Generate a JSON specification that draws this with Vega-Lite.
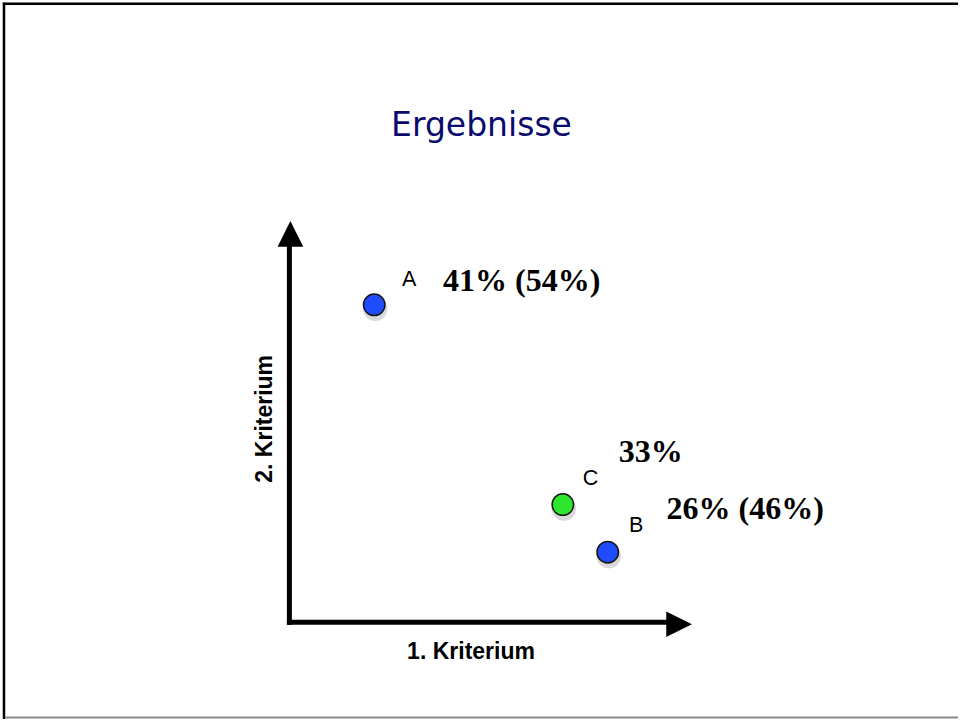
{
  "$schema": "https://vega.github.io/schema/vega-lite/v6.json",
  "width": 960,
  "height": 721,
  "autosize": {"type": "fit", "contains": "padding"},
  "padding": 0,
  "background": "white",
  "view": {"stroke": null},
  "layer": [
    {
      "data": {"values": [
        {"x1": -286, "y1": 621.3, "x2": -286, "y2": -97},
        {"x1": -287.2, "y1": 620.3, "x2": 670, "y2": 620.3}
      ]},
      "mark": {"type": "rule", "stroke": "#000000", "strokeWidth": 2.5},
      "encoding": {
        "x": {"field": "x1", "type": "quantitative", "scale": {"domain": [-290, 670], "nice": false, "zero": false}, "axis": null},
        "x2": {"field": "x2"},
        "y": {"field": "y1", "type": "quantitative", "scale": {"domain": [-97, 624], "nice": false, "zero": false}, "axis": null},
        "y2": {"field": "y2"}
      }
    },
    {
      "data": {"values": [
        {"x1": -285, "y1": -95.5, "x2": 670, "y2": -95.5}
      ]},
      "mark": {"type": "rule", "stroke": "#8a8a8a", "strokeWidth": 2},
      "encoding": {
        "x": {"field": "x1", "type": "quantitative", "scale": {"domain": [-290, 670], "nice": false, "zero": false}, "axis": null},
        "x2": {"field": "x2"},
        "y": {"field": "y1", "type": "quantitative", "scale": {"domain": [-97, 624], "nice": false, "zero": false}, "axis": null},
        "y2": {"field": "y2"}
      }
    },
    {
      "data": {"values": [
        {"x1": 0, "y1": -2.5, "x2": 0, "y2": 380},
        {"x1": -2.5, "y1": 0, "x2": 380, "y2": 0}
      ]},
      "mark": {"type": "rule", "stroke": "#000000", "strokeWidth": 5},
      "encoding": {
        "x": {"field": "x1", "type": "quantitative", "scale": {"domain": [-290, 670], "nice": false, "zero": false}, "axis": null},
        "x2": {"field": "x2"},
        "y": {"field": "y1", "type": "quantitative", "scale": {"domain": [-97, 624], "nice": false, "zero": false}, "axis": null},
        "y2": {"field": "y2"}
      }
    },
    {
      "data": {"values": [
        {"dir": "up", "x": 1, "y": 389.5},
        {"dir": "right", "x": 390.5, "y": -2}
      ]},
      "mark": {"type": "point", "filled": true, "fill": "#000000", "stroke": null, "opacity": 1, "size": 660},
      "encoding": {
        "x": {"field": "x", "type": "quantitative", "scale": {"domain": [-290, 670], "nice": false, "zero": false}, "axis": null},
        "y": {"field": "y", "type": "quantitative", "scale": {"domain": [-97, 624], "nice": false, "zero": false}, "axis": null},
        "shape": {"field": "dir", "type": "nominal", "scale": {"domain": ["up", "right"], "range": ["M0,-1L-1,1L1,1Z", "M1,0L-1,-1L-1,1Z"]}, "legend": null}
      }
    },
    {
      "data": {"values": [
        {"option": "A", "k1": 85, "k2": 318.3},
        {"option": "B", "k1": 319, "k2": 70.3},
        {"option": "C", "k1": 274, "k2": 118}
      ]},
      "mark": {"type": "circle", "color": "#000000", "opacity": 0.15, "size": 600, "xOffset": 1, "yOffset": 4},
      "encoding": {
        "x": {"field": "k1", "type": "quantitative", "scale": {"domain": [-290, 670], "nice": false, "zero": false}, "axis": null},
        "y": {"field": "k2", "type": "quantitative", "scale": {"domain": [-97, 624], "nice": false, "zero": false}, "axis": null}
      }
    },
    {
      "data": {"values": [
        {"option": "A", "k1": 85, "k2": 318.3},
        {"option": "B", "k1": 319, "k2": 70.3},
        {"option": "C", "k1": 274, "k2": 118}
      ]},
      "mark": {"type": "circle", "opacity": 1, "size": 460, "stroke": "#151515", "strokeWidth": 1.5},
      "encoding": {
        "x": {"field": "k1", "type": "quantitative", "scale": {"domain": [-290, 670], "nice": false, "zero": false}, "axis": null},
        "y": {"field": "k2", "type": "quantitative", "scale": {"domain": [-97, 624], "nice": false, "zero": false}, "axis": null},
        "fill": {"field": "option", "type": "nominal", "scale": {"domain": ["A", "B", "C"], "range": ["#1f4cff", "#1f4cff", "#2ee62e"]}, "legend": null}
      }
    },
    {
      "data": {"values": [
        {"option": "A", "lx": 120, "ly": 337.5},
        {"option": "B", "lx": 347.5, "ly": 91},
        {"option": "C", "lx": 301.7, "ly": 137.5}
      ]},
      "mark": {"type": "text", "font": "Liberation Sans", "fontSize": 21.5, "align": "center", "baseline": "alphabetic", "color": "#000000"},
      "encoding": {
        "x": {"field": "lx", "type": "quantitative", "scale": {"domain": [-290, 670], "nice": false, "zero": false}, "axis": null},
        "y": {"field": "ly", "type": "quantitative", "scale": {"domain": [-97, 624], "nice": false, "zero": false}, "axis": null},
        "text": {"field": "option"}
      }
    },
    {
      "data": {"values": [
        {"label": "41% (54%)", "px": 154, "py": 332.3},
        {"label": "33%", "px": 330, "py": 161},
        {"label": "26% (46%)", "px": 378, "py": 104}
      ]},
      "mark": {"type": "text", "font": "Liberation Serif", "fontWeight": "bold", "fontSize": 32, "align": "left", "baseline": "alphabetic", "color": "#000000"},
      "encoding": {
        "x": {"field": "px", "type": "quantitative", "scale": {"domain": [-290, 670], "nice": false, "zero": false}, "axis": null},
        "y": {"field": "py", "type": "quantitative", "scale": {"domain": [-97, 624], "nice": false, "zero": false}, "axis": null},
        "text": {"field": "label"}
      }
    },
    {
      "data": {"values": [
        {"label": "1. Kriterium", "tx": 182, "ty": -36.7}
      ]},
      "mark": {"type": "text", "font": "Liberation Sans", "fontWeight": "bold", "fontSize": 23, "align": "center", "baseline": "alphabetic", "color": "#000000"},
      "encoding": {
        "x": {"field": "tx", "type": "quantitative", "scale": {"domain": [-290, 670], "nice": false, "zero": false}, "axis": null},
        "y": {"field": "ty", "type": "quantitative", "scale": {"domain": [-97, 624], "nice": false, "zero": false}, "axis": null},
        "text": {"field": "label"}
      }
    },
    {
      "data": {"values": [
        {"label": "2. Kriterium", "tx": -17.5, "ty": 204}
      ]},
      "mark": {"type": "text", "font": "Liberation Sans", "fontWeight": "bold", "fontSize": 23, "align": "center", "baseline": "alphabetic", "angle": 270, "color": "#000000"},
      "encoding": {
        "x": {"field": "tx", "type": "quantitative", "scale": {"domain": [-290, 670], "nice": false, "zero": false}, "axis": null},
        "y": {"field": "ty", "type": "quantitative", "scale": {"domain": [-97, 624], "nice": false, "zero": false}, "axis": null},
        "text": {"field": "label"}
      }
    },
    {
      "data": {"values": [
        {"label": "Ergebnisse", "tx": 192.5, "ty": 487.3}
      ]},
      "mark": {"type": "text", "font": "DejaVu Sans", "fontSize": 33, "align": "center", "baseline": "alphabetic", "color": "#0b0b6e"},
      "encoding": {
        "x": {"field": "tx", "type": "quantitative", "scale": {"domain": [-290, 670], "nice": false, "zero": false}, "axis": null},
        "y": {"field": "ty", "type": "quantitative", "scale": {"domain": [-97, 624], "nice": false, "zero": false}, "axis": null},
        "text": {"field": "label"}
      }
    }
  ]
}
